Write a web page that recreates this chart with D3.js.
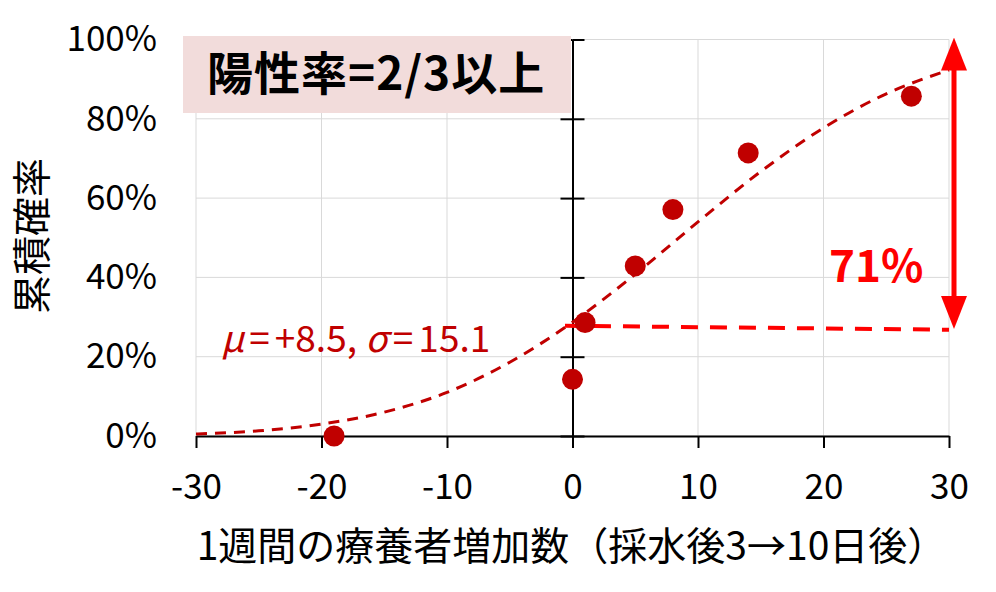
<!DOCTYPE html>
<html>
<head>
<meta charset="utf-8">
<script src="https://cdn.jsdelivr.net/npm/d3@7"></script>
<style>
  body { margin: 0; background: #fff; }
  text { font-family: "Noto Sans CJK JP", "Noto Sans", sans-serif; }
</style>
</head>
<body>
<div id="chart"></div>
<script>
// Data
const obsX = [-19, 0, 1, 5, 8, 14, 27]
const obsY = [0, 0.143, 0.286, 0.429, 0.571, 0.714, 0.857]
// fitted curve (mu=+8.5, sigma=15.1)
const fitX = [-30, -25, -20, -15, -10, -5, 0, 5, 10, 15, 20, 25, 30]
const fitY = [0.005, 0.013, 0.030, 0.060, 0.110, 0.186, 0.287, 0.408, 0.540, 0.667, 0.777, 0.863, 0.923]
const baseX = [-0.6, 30]
const baseY = [0.278, 0.268]
const arrowY = [0.27, 1.005]
const xTicks = [-30, -20, -10, 0, 10, 20, 30]
const yTicks = [0, 0.2, 0.4, 0.6, 0.8, 1.0]
const boxText = "陽性率=2/3以上"
const fitLabel = ["μ", "=", "+8.5, ", "σ", "=", "15.1"]
const diffLabel = "71%"
const xTitle = "1週間の療養者増加数（採水後3→10日後）"
const yTitle = "累積確率"

// Colors
const darkRed = "#C00000"
const brightRed = "#FF0000"
const gridColor = "#D9D9D9"

// Dimensions
const width = 996, height = 592
const plotLeft = 196, plotRight = 949, plotTop = 39.5, plotBottom = 436

const svg = d3.select("#chart").append("svg")
    .attr("width", width)
    .attr("height", height)

const x = d3.scaleLinear().domain([-30, 30]).range([plotLeft, plotRight])
const y = d3.scaleLinear().domain([0, 1]).range([plotBottom, plotTop])

// Grid lines
svg.append("g")
  .selectAll("line")
  .data(xTicks)
  .enter().append("line")
    .attr("x1", d => x(d)).attr("x2", d => x(d))
    .attr("y1", plotTop).attr("y2", plotBottom)
    .attr("stroke", gridColor).attr("stroke-width", 1)

svg.append("g")
  .selectAll("line")
  .data(yTicks)
  .enter().append("line")
    .attr("x1", plotLeft).attr("x2", plotRight)
    .attr("y1", d => y(d)).attr("y2", d => y(d))
    .attr("stroke", gridColor).attr("stroke-width", 1)

// X-axis at y=0
const xAxis = svg.append("g")
    .attr("transform", `translate(0,${y(0)})`)
    .call(d3.axisBottom(x)
      .tickValues(xTicks)
      .tickSize(12)
      .tickSizeOuter(0)
      .tickPadding(26)
      .tickFormat(d3.format("d")))
xAxis.select(".domain").attr("stroke", "#000").attr("stroke-width", 2)
xAxis.selectAll(".tick line").attr("stroke", "#000").attr("stroke-width", 2)
xAxis.selectAll(".tick text")
    .style("font-size", "35px")
    .attr("fill", "#000")
    .text(d => d < 0 ? "-" + Math.abs(d) : d)

// Y-axis at x=0, crossing ticks
const yAxisL = svg.append("g")
    .attr("transform", `translate(${x(0)},0)`)
    .call(d3.axisLeft(y).tickValues(yTicks).tickSize(12).tickSizeOuter(0).tickFormat(""))
const yAxisR = svg.append("g")
    .attr("transform", `translate(${x(0)},0)`)
    .call(d3.axisRight(y).tickValues(yTicks).tickSize(12).tickSizeOuter(0).tickFormat(""))
yAxisR.select(".domain").remove()
yAxisL.select(".domain").attr("stroke", "#000").attr("stroke-width", 2)
svg.selectAll(".tick line").attr("stroke", "#000").attr("stroke-width", 2)

// Y tick labels at the left edge
const yLabels = svg.append("g")
    .attr("transform", `translate(${plotLeft},0)`)
    .call(d3.axisLeft(y)
      .tickValues(yTicks)
      .tickSize(0)
      .tickPadding(39)
      .tickFormat(d3.format(".0%")))
yLabels.select(".domain").remove()
yLabels.selectAll("text").style("font-size", "35px").attr("fill", "#000")

// Fitted curve
const fitLine = d3.line()
    .x(d => x(d[0]))
    .y(d => y(d[1]))
    .curve(d3.curveMonotoneX)

svg.append("path")
    .datum(d3.zip(fitX, fitY))
    .attr("fill", "none")
    .attr("stroke", darkRed)
    .attr("stroke-width", 3)
    .attr("stroke-dasharray", "11,8")
    .attr("d", fitLine)

// Baseline at x=0
svg.append("path")
    .datum(d3.zip(baseX, baseY))
    .attr("fill", "none")
    .attr("stroke", brightRed)
    .attr("stroke-width", 4)
    .attr("stroke-dasharray", "17,12")
    .attr("d", d3.line().x(d => x(d[0])).y(d => y(d[1])))

// Dots
svg.selectAll(".dot")
    .data(d3.zip(obsX, obsY))
    .enter().append("circle")
    .attr("class", "dot")
    .attr("cx", d => x(d[0]))
    .attr("cy", d => y(d[1]))
    .attr("r", 10.5)
    .attr("fill", darkRed)

// Double arrow
const defs = svg.append("defs")
defs.append("marker")
    .attr("id", "head")
    .attr("viewBox", "0 0 33 26")
    .attr("markerUnits", "userSpaceOnUse")
    .attr("markerWidth", 33)
    .attr("markerHeight", 26)
    .attr("refX", 18)
    .attr("refY", 13)
    .attr("orient", "auto-start-reverse")
  .append("path")
    .attr("d", "M0,0 L33,13 L0,26 Z")
    .attr("fill", brightRed)

const arrowX = x(30) + 5
svg.append("line")
    .attr("x1", arrowX).attr("x2", arrowX)
    .attr("y1", y(arrowY[0]) - 15)
    .attr("y2", y(arrowY[1]) + 15)
    .attr("stroke", brightRed)
    .attr("stroke-width", 5)
    .attr("marker-start", "url(#head)")
    .attr("marker-end", "url(#head)")

svg.append("text")
    .attr("x", x(24.2))
    .attr("y", 282)
    .attr("text-anchor", "middle")
    .attr("fill", brightRed)
    .style("font-size", "44px")
    .style("font-weight", "bold")
    .text(diffLabel)

// Fit parameters label
const fitText = svg.append("text")
    .attr("x", 221)
    .attr("y", 352)
    .attr("fill", darkRed)
    .style("font-size", "37px")
fitLabel.forEach((s, i) => {
  fitText.append("tspan")
    .attr("dx", s === "=" ? 5 : (i > 0 && fitLabel[i - 1] === "=" ? 5 : 0))
    .style("font-style", (s === "μ" || s === "σ") ? "italic" : "normal")
    .text(s)
})

// Box annotation
svg.append("rect")
    .attr("x", 183).attr("y", 36)
    .attr("width", 388).attr("height", 77)
    .attr("fill", "#F2DCDB")

svg.append("text")
    .attr("x", 207)
    .attr("y", 90)
    .attr("fill", "#000")
    .style("font-size", "46px")
    .style("font-weight", "bold")
    .style("letter-spacing", "1px")
    .text(boxText)

// Axis titles
svg.append("text")
    .attr("x", (plotLeft + plotRight) / 2 - 1)
    .attr("y", 560)
    .attr("text-anchor", "middle")
    .attr("fill", "#000")
    .style("font-size", "39px")
    .text(xTitle)

svg.append("text")
    .attr("transform", `translate(46,236) rotate(-90)`)
    .attr("text-anchor", "middle")
    .attr("fill", "#000")
    .style("font-size", "39px")
    .text(yTitle)
</script>
</body>
</html>
